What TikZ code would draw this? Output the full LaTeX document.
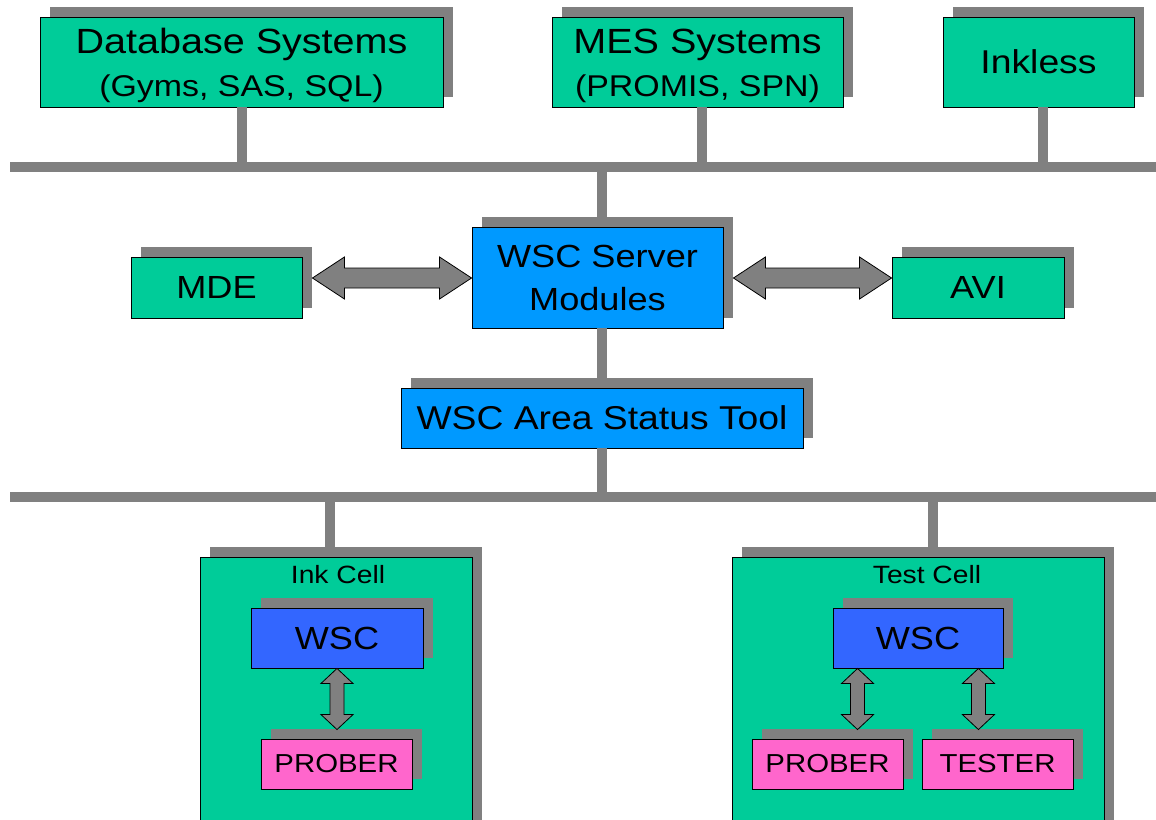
\documentclass[tikz,border=0pt]{standalone}
\usepackage{fontspec}
\setmainfont[FakeStretch=1.13]{Liberation Sans}
\usetikzlibrary{shadows,calc}

\definecolor{boxgreen}{RGB}{0,204,153}
\definecolor{serverblue}{RGB}{0,153,255}
\definecolor{wscblue}{RGB}{51,102,255}
\definecolor{probepink}{RGB}{255,102,204}
\definecolor{shadegray}{RGB}{128,128,128}

\tikzset{
  unit/.style={draw=black, line width=0.9pt, inner sep=0pt, text=black,
    general shadow={fill=shadegray, shadow xshift=10pt, shadow yshift=10pt}},
  greenbox/.style={unit, fill=boxgreen},
  bluebox/.style={unit, fill=serverblue},
  wscbox/.style={unit, fill=wscblue},
  pinkbox/.style={unit, fill=probepink},
  big/.style={font=\fontsize{33}{40}\selectfont},
  mid/.style={font=\fontsize{26}{30}\selectfont},
  celltitle/.style={font=\fontsize{25}{30}\selectfont, inner sep=0pt},
  bus/.style={draw=shadegray, line width=10pt},
  blockarrow/.style={fill=shadegray, draw=black, line width=0.8pt, line join=miter}
}

% double-headed block arrow between two tips on one row
\newcommand\harrow[2]{%
  \draw[blockarrow] (#1) -- ($(#1)+(32,-21)$) -- ($(#1)+(32,-10)$)
    -- ($(#2)+(-32,-10)$) -- ($(#2)+(-32,-21)$) -- (#2)
    -- ($(#2)+(-32,21)$) -- ($(#2)+(-32,10)$)
    -- ($(#1)+(32,10)$) -- ($(#1)+(32,21)$) -- cycle;}
% double-headed block arrow between two tips on one column
\newcommand\varrow[2]{%
  \draw[blockarrow] (#1) -- ($(#1)+(16,15)$) -- ($(#1)+(7,15)$)
    -- ($(#2)+(7,-15)$) -- ($(#2)+(16,-15)$) -- (#2)
    -- ($(#2)+(-16,-15)$) -- ($(#2)+(-7,-15)$)
    -- ($(#1)+(-7,15)$) -- ($(#1)+(-16,15)$) -- cycle;}

\begin{document}
\begin{tikzpicture}[x=1pt, y=-1pt]
\useasboundingbox (0,0) rectangle (1156,819);
\fill[white] (0,0) rectangle (1156,819);
\clip (0,0) rectangle (1156,819);

% bus lines
\coordinate (topL) at (10,167);
\coordinate (topR) at (1160,167);
\coordinate (botL) at (10,497);
\coordinate (botR) at (1160,497);

% top row of systems
\node[greenbox, minimum width=403pt, minimum height=90pt, align=center,
      font=\fontsize{35}{43}\selectfont] (db) at (241.5,62)
  {\rule{0pt}{32pt}Database Systems\\{\fontsize{30}{43}\selectfont (Gyms, SAS, SQL)}};
\node[greenbox, minimum width=291pt, minimum height=90pt, align=center,
      font=\fontsize{35}{43}\selectfont] (mes) at (697.5,62)
  {\rule{0pt}{32pt}MES Systems\\{\fontsize{30}{43}\selectfont (PROMIS, SPN)}};
\node[greenbox, big, minimum width=191pt, minimum height=90pt] (inkless) at (1038.5,62) {Inkless};

% server row
\node[bluebox, minimum width=251pt, minimum height=101pt, align=center,
      font=\fontsize{32}{43}\selectfont] (server) at (597.5,277.5) {WSC Server\\Modules};
\node[greenbox, minimum width=171pt, minimum height=61pt, font=\fontsize{32}{38}\selectfont] (mde) at (216.5,287.5) {MDE};
\node[greenbox, minimum width=172pt, minimum height=61pt, font=\fontsize{32}{38}\selectfont] (avi) at (978,287.5) {AVI};

\node[bluebox, big, minimum width=402pt, minimum height=60pt] (tool) at (602,418) {WSC Area Status Tool};

% cells
\node[greenbox, minimum width=272pt, minimum height=283pt] (inkcell) at (336,698.5) {};
\node[greenbox, minimum width=372pt, minimum height=283pt] (testcell) at (918,698.5) {};
\node[celltitle] (inktitle) at ($(inkcell.north)+(2,18)$) {Ink Cell};
\node[celltitle] (testtitle) at ($(testcell.north)+(9,18)$) {Test Cell};

\node[wscbox, minimum width=172pt, minimum height=60pt, font=\fontsize{32}{38}\selectfont] (wsc1) at (337,638) {WSC};
\node[pinkbox, mid, minimum width=151pt, minimum height=50pt] (prober1) at (336.5,764) {PROBER};

\node[wscbox, minimum width=170pt, minimum height=60pt, font=\fontsize{32}{38}\selectfont] (wsc2) at (918,638) {WSC};
\node[pinkbox, mid, minimum width=151pt, minimum height=50pt] (prober2) at (827.5,764) {PROBER};
\node[pinkbox, mid, minimum width=151pt, minimum height=50pt] (tester) at (997.5,764) {TESTER};

% network lines
\path[bus] (topL) -- (topR);
\path[bus] (botL) -- (botR);
\path[bus] (db.south) -- (db.south |- topL);
\path[bus] ([xshift=4.5pt]mes.south) -- ([xshift=4.5pt]mes.south |- topL);
\path[bus] ([xshift=4.5pt]inkless.south) -- ([xshift=4.5pt]inkless.south |- topL);
\path[bus] ([xshift=4pt]server.north |- topL) -- ([xshift=4pt]server.north);
\path[bus] ([xshift=4pt]server.south) -- ([xshift=4pt]server.south |- tool.north);
\path[bus] (tool.south) -- (tool.south |- botL);
\path[bus] ([xshift=-6pt]inkcell.north |- botL) -- ([xshift=-6pt, yshift=10pt]inkcell.north);
\path[bus] ([xshift=15pt]testcell.north |- botL) -- ([xshift=15pt, yshift=10pt]testcell.north);

% block arrows
\coordinate (mdeTip) at ($(mde.east)+(10,-9.5)$);
\coordinate (srvL) at (server.west |- mdeTip);
\coordinate (srvR) at ($(server.east |- mdeTip)+(10,0)$);
\coordinate (aviTip) at (avi.west |- mdeTip);
\harrow{mdeTip}{srvL}
\harrow{srvR}{aviTip}

\coordinate (w1b) at (wsc1.south);
\coordinate (p1t) at ($(prober1.north)+(0.5,-9)$);
\varrow{w1b}{w1b |- p1t}
\coordinate (w2a) at ($(wsc2.south west)+(25,0)$);
\coordinate (w2b) at ($(wsc2.south east)+(-25,0)$);
\coordinate (p2t) at ($(prober2.north)+(0,-9)$);
\varrow{w2a}{w2a |- p2t}
\varrow{w2b}{w2b |- p2t}
\end{tikzpicture}
\end{document}
